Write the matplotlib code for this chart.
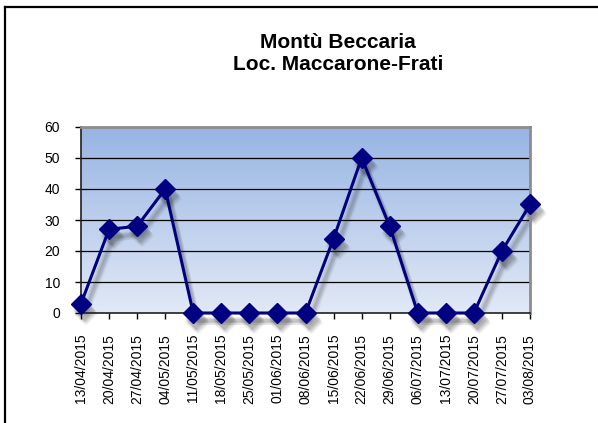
import numpy as np
import matplotlib
matplotlib.use("Agg")
import matplotlib.pyplot as plt
import matplotlib.transforms as mtrans
from matplotlib.lines import Line2D

plt.rcParams['font.family'] = ['Liberation Sans', 'DejaVu Sans']

dates = ["13/04/2015", "20/04/2015", "27/04/2015", "04/05/2015", "11/05/2015",
         "18/05/2015", "25/05/2015", "01/06/2015", "08/06/2015", "15/06/2015",
         "22/06/2015", "29/06/2015", "06/07/2015", "13/07/2015", "20/07/2015",
         "27/07/2015", "03/08/2015"]
values = [3, 27, 28, 40, 0, 0, 0, 0, 0, 24, 50, 28, 0, 0, 0, 20, 35]
yticks = [0, 10, 20, 30, 40, 50, 60]

fig = plt.figure(figsize=(5.98, 4.23), dpi=100)
ax = fig.add_axes([81/598, 1 - 313/423, 449/598, 186/423])

x = np.arange(len(dates))
xmax = len(dates) - 1

# gradient background: blue at the top, pale at the bottom
top = np.array([150, 180, 227]) / 255
bot = np.array([226, 233, 246]) / 255
t = np.linspace(0, 1, 256)[:, None]
grad = np.repeat((top * (1 - t) + bot * t)[:, None, :], 2, axis=1)
ax.imshow(grad, extent=[0, xmax, 0, 60], aspect='auto', zorder=0, origin='upper')
ax.set_xlim(0, xmax)
ax.set_ylim(0, 60)

for yv in yticks[1:-1]:
    ax.axhline(yv, color='black', lw=0.9, zorder=1)

# soft shadow: a few offset, faint copies
for dx, dy, a in [(4, -7, 0.08), (5, -8, 0.08), (3, -6, 0.08), (6, -10, 0.06),
                  (4, -10, 0.06), (2, -8, 0.05)]:
    tr = mtrans.offset_copy(ax.transData, fig=fig, x=dx, y=dy, units='dots')
    ax.plot(x, values, color='#303030', lw=3, marker='D', ms=11, markeredgewidth=0,
            alpha=a, transform=tr, zorder=2, clip_on=False)

ax.plot(x, values, color='#000080', lw=2.2, marker='D', ms=10,
        markeredgecolor='#000080', zorder=3, clip_on=False)

ax.set_xticks(x)
ax.set_xticklabels(dates, rotation=90, fontsize=10)
ax.set_yticks(yticks)
ax.tick_params(axis='y', labelsize=10, length=4, width=1, direction='out', pad=11)
ax.tick_params(axis='x', length=4, width=1, direction='out', pad=11)

for s in ['top', 'right']:
    ax.spines[s].set_color('#8c8c8c')
    ax.spines[s].set_linewidth(2)
for s in ['left', 'bottom']:
    ax.spines[s].set_color('#202020')
    ax.spines[s].set_linewidth(1.2)

# title is centred on the full (cropped) chart area, not the plot
fig.text(338/598, 1 - 48/423, "Montù Beccaria", ha='center', va='baseline',
         fontsize=15, fontweight='bold')
fig.text(338/598, 1 - 70/423, "Loc. Maccarone-Frati", ha='center', va='baseline',
         fontsize=15, fontweight='bold')

# chart frame
fig.add_artist(Line2D([5/598, 1.0], [1 - 7/423, 1 - 7/423], color='black', lw=1.6,
                      transform=fig.transFigure))
fig.add_artist(Line2D([5/598, 5/598], [1 - 7/423, 0], color='black', lw=1.6,
                      transform=fig.transFigure))

fig.savefig("out.png", dpi=100)
